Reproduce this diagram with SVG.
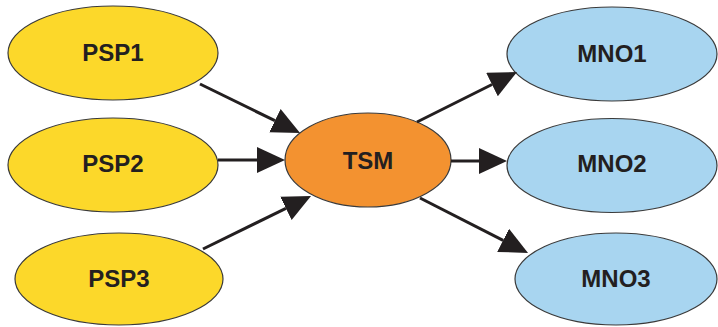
<svg xmlns="http://www.w3.org/2000/svg" width="718" height="327" viewBox="0 0 718 327">
<style>
.psp{fill:#fcd82a;stroke:#3a3a3a;stroke-width:1.2}
.tsm{fill:#f39230;stroke:#3a3a3a;stroke-width:1.2}
.mno{fill:#a8d5f0;stroke:#3a3a3a;stroke-width:1.2}
.lbl{font-family:"Liberation Sans",Arial,sans-serif;font-weight:bold;font-size:24px;fill:#231f20;text-anchor:middle}
.edge{stroke:#231f20;stroke-width:3;fill:none;marker-end:url(#arr)}
</style>
<defs>
<marker id="arr" markerUnits="userSpaceOnUse" markerWidth="30" markerHeight="28" refX="0" refY="13" orient="auto">
<path d="M0,0 L28,13 L0,26 z" fill="#231f20"/>
</marker>
</defs>
<rect width="718" height="327" fill="#ffffff"/>
<g id="PSP1"><ellipse class="psp" cx="113" cy="53" rx="105" ry="47"/><text class="lbl" x="113" y="61">PSP1</text></g>
<g id="PSP2"><ellipse class="psp" cx="113" cy="165" rx="105" ry="47"/><text class="lbl" x="113" y="172">PSP2</text></g>
<g id="PSP3"><ellipse class="psp" cx="119" cy="279" rx="104" ry="46"/><text class="lbl" x="119" y="287">PSP3</text></g>
<g id="TSM"><ellipse class="tsm" cx="368" cy="160" rx="83" ry="47"/><text class="lbl" x="368" y="168.5">TSM</text></g>
<g id="MNO1"><ellipse class="mno" cx="612" cy="54" rx="105" ry="47"/><text class="lbl" x="612" y="62">MNO1</text></g>
<g id="MNO2"><ellipse class="mno" cx="612" cy="165.5" rx="105" ry="47"/><text class="lbl" x="612" y="172">MNO2</text></g>
<g id="MNO3"><ellipse class="mno" cx="616" cy="279" rx="101" ry="46"/><text class="lbl" x="616" y="287">MNO3</text></g>
<g id="connectors">
<line class="edge" x1="200" y1="84" x2="274.9" y2="120.7"/>
<line class="edge" x1="218" y1="160" x2="257" y2="160"/>
<line class="edge" x1="203" y1="249" x2="285.9" y2="208.3"/>
<line class="edge" x1="417" y1="122" x2="492" y2="84.5"/>
<line class="edge" x1="451" y1="161" x2="479" y2="161"/>
<line class="edge" x1="420" y1="198" x2="503.1" y2="240.3"/>
</g>
</svg>
